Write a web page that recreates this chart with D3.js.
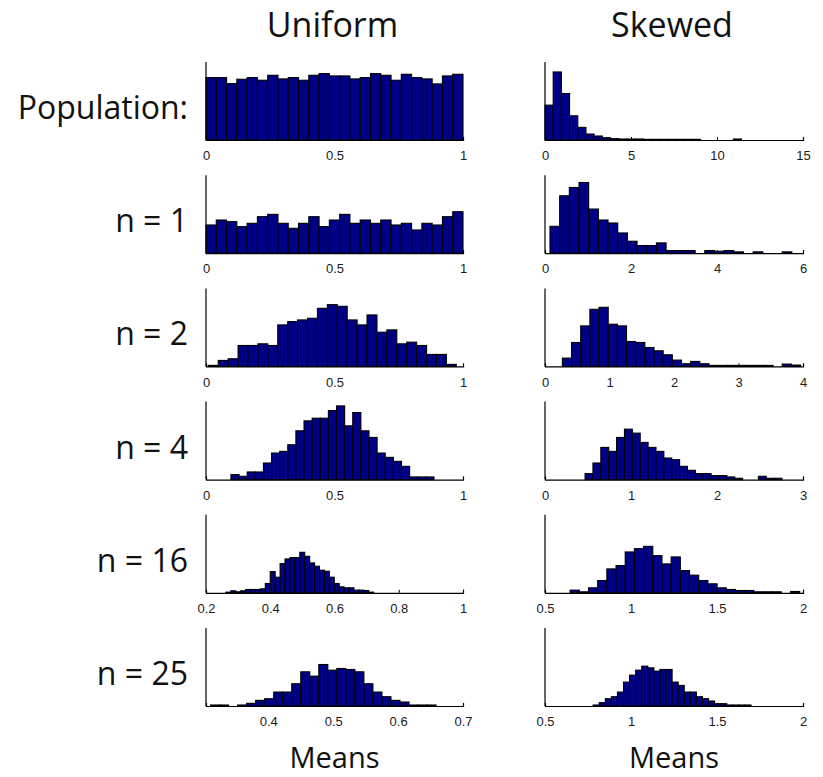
<!DOCTYPE html>
<html><head><meta charset="utf-8">
<script src="https://cdn.jsdelivr.net/npm/d3@7"></script>
<style>body{margin:0;background:#fff;} svg{display:block;}</style>
</head><body>
<svg id="chart" width="823" height="777"></svg>
<script>
// ---------- data ----------
const columnTitles = ["Uniform", "Skewed"];
const rowLabels = ["Population:", "n = 1", "n = 2", "n = 4", "n = 16", "n = 25"];
const xAxisLabel = "Means";

// Uniform column
const uniformDomains = [[0, 1], [0, 1], [0, 1], [0, 1], [0.2, 1], [0.304, 0.7]];
const uniformTicks = [[0, 0.5, 1], [0, 0.5, 1], [0, 0.5, 1], [0, 0.5, 1], [0.2, 0.4, 0.6, 0.8, 1], [0.4, 0.5, 0.6, 0.7]];
const uniformBinStart = [0, 0, 0.009, 0.097, 0.262, 0.311];
const uniformBinWidth = [0.04, 0.04, 0.0386, 0.0316, 0.01533, 0.0139];
const uniformPop = [188,188,170,183,188,180,195,184,188,180,195,200,193,193,184,188,200,195,180,198,188,184,169,193,198];
const uniformN1 = [85,100,95,80,90,110,117,90,75,90,110,80,100,117,90,100,90,100,85,90,70,90,85,110,125];
const uniformN2 = [3,18,23,63,63,68,63,125,135,140,145,175,186,181,140,125,155,103,110,68,73,63,36,36,6];
const uniformN4 = [15,10,23,23,50,80,85,105,147,177,185,185,208,222,162,202,147,127,80,67,55,40,8,8,8];
const uniformN16 = [2,6,3,6,10,10,10,12,28,64,47,88,102,106,106,122,110,90,80,68,65,47,28,18,15,15,8,8,7,2];
const uniformN25 = [3,3,0,3,8,17,22,42,42,67,103,90,125,108,113,110,103,67,42,28,17,12,3,3,3];
const uniformCounts = [uniformPop, uniformN1, uniformN2, uniformN4, uniformN16, uniformN25];

// Skewed column
const skewedDomains = [[0, 15], [0, 6], [0, 4], [0, 3], [0.5, 2], [0.5, 2]];
const skewedTicks = [[0, 5, 10, 15], [0, 2, 4, 6], [0, 1, 2, 3, 4], [0, 1, 2, 3], [0.5, 1, 1.5, 2], [0.5, 1, 1.5, 2]];
const skewedBinStart = [0, 0.116, 0.27, 0.466, 0.646, 0.78];
const skewedBinWidth = [0.476, 0.225, 0.142, 0.0916, 0.0534, 0.0353];
const skewedPop = [105,205,140,73,38,18,12,7,4,3,3,3,2,2,2,2,2,2,2,0,0,0,0,3];
const skewedN1 = [81,173,198,213,133,100,91,61,36,23,23,31,8,8,8,0,8,6,8,4,0,4,0,0,4];
const skewedN2 = [25,72,122,172,178,127,122,75,72,57,47,35,19,8,15,8,3,3,3,3,3,3,3,0,7,4];
const skewedN4 = [18,50,97,85,127,152,140,112,97,85,65,60,40,28,18,18,12,12,8,4,0,0,10,4,4];
const skewedN16 = [8,3,15,37,72,82,123,133,140,112,87,108,67,53,37,27,15,10,7,7,3,3,3,0,4];
const skewedN25 = [3,10,22,28,42,72,93,108,120,115,105,110,110,72,62,42,42,28,22,15,7,7,3,3,3,3];
const skewedCounts = [skewedPop, skewedN1, skewedN2, skewedN4, skewedN16, skewedN25];

const yMax = 235;

// ---------- layout ----------
const svg = d3.select("#chart");
const colLeft = [206, 545], colRight = [463, 803];
const firstTop = 62, rowStep = 113.2, plotH = 78;
const barFill = "#000087";
const bigFont = "'Open Sans', Lato, sans-serif";

const columns = [
  {domains: uniformDomains, ticks: uniformTicks, start: uniformBinStart, width: uniformBinWidth, counts: uniformCounts},
  {domains: skewedDomains, ticks: skewedTicks, start: skewedBinStart, width: skewedBinWidth, counts: skewedCounts}
];

columns.forEach((col, c) => {
  col.counts.forEach((counts, r) => {
    const top = firstTop + r * rowStep;
    const base = top + plotH;
    const x = d3.scaleLinear().domain(col.domains[r]).range([colLeft[c], colRight[c]]);
    const y = d3.scaleLinear().domain([0, yMax]).range([base, top]);
    const g = svg.append("g");

    const axis = d3.axisBottom(x)
      .tickValues(col.ticks[r])
      .tickFormat(d3.format("~g"))
      .tickSizeInner(-3).tickSizeOuter(-3).tickPadding(11);
    const ax = g.append("g").attr("transform", `translate(0,${base})`).call(axis);
    ax.select(".domain").attr("stroke", "#000").attr("stroke-width", 1.2);
    ax.selectAll(".tick line").attr("stroke", "#000");
    ax.selectAll("text").attr("font-family", "'Liberation Sans', Arial, sans-serif")
      .attr("font-size", 13).attr("fill", "#1a1a1a");

    const bins = counts.map((v, i) => ({x0: col.start[r] + i * col.width[r], x1: col.start[r] + (i + 1) * col.width[r], v}));
    g.selectAll("rect").data(bins.filter(b => b.v > 0)).join("rect")
      .attr("x", d => x(d.x0))
      .attr("width", d => x(d.x1) - x(d.x0))
      .attr("y", d => y(d.v))
      .attr("height", d => base - y(d.v))
      .attr("fill", barFill)
      .attr("stroke", "#000")
      .attr("stroke-width", 1.1);

    g.append("line").attr("x1", colLeft[c]).attr("x2", colLeft[c])
      .attr("y1", top).attr("y2", base).attr("stroke", "#000").attr("stroke-width", 1.2);

    if (c === 0) {
      svg.append("text").attr("x", 188).attr("y", top + 57)
        .attr("text-anchor", "end").attr("font-family", bigFont).attr("font-size", 32)
        .attr("fill", "#111").text(rowLabels[r]);
    }
  });
  const cx = (colLeft[c] + colRight[c]) / 2;
  svg.append("text").attr("x", cx - 2).attr("y", 37).attr("text-anchor", "middle")
    .attr("font-family", bigFont).attr("font-size", 34).attr("fill", "#111").text(columnTitles[c]);
  svg.append("text").attr("x", cx).attr("y", 768).attr("text-anchor", "middle")
    .attr("font-family", bigFont).attr("font-size", 29).attr("fill", "#111").text(xAxisLabel);
});
</script>
</body></html>
